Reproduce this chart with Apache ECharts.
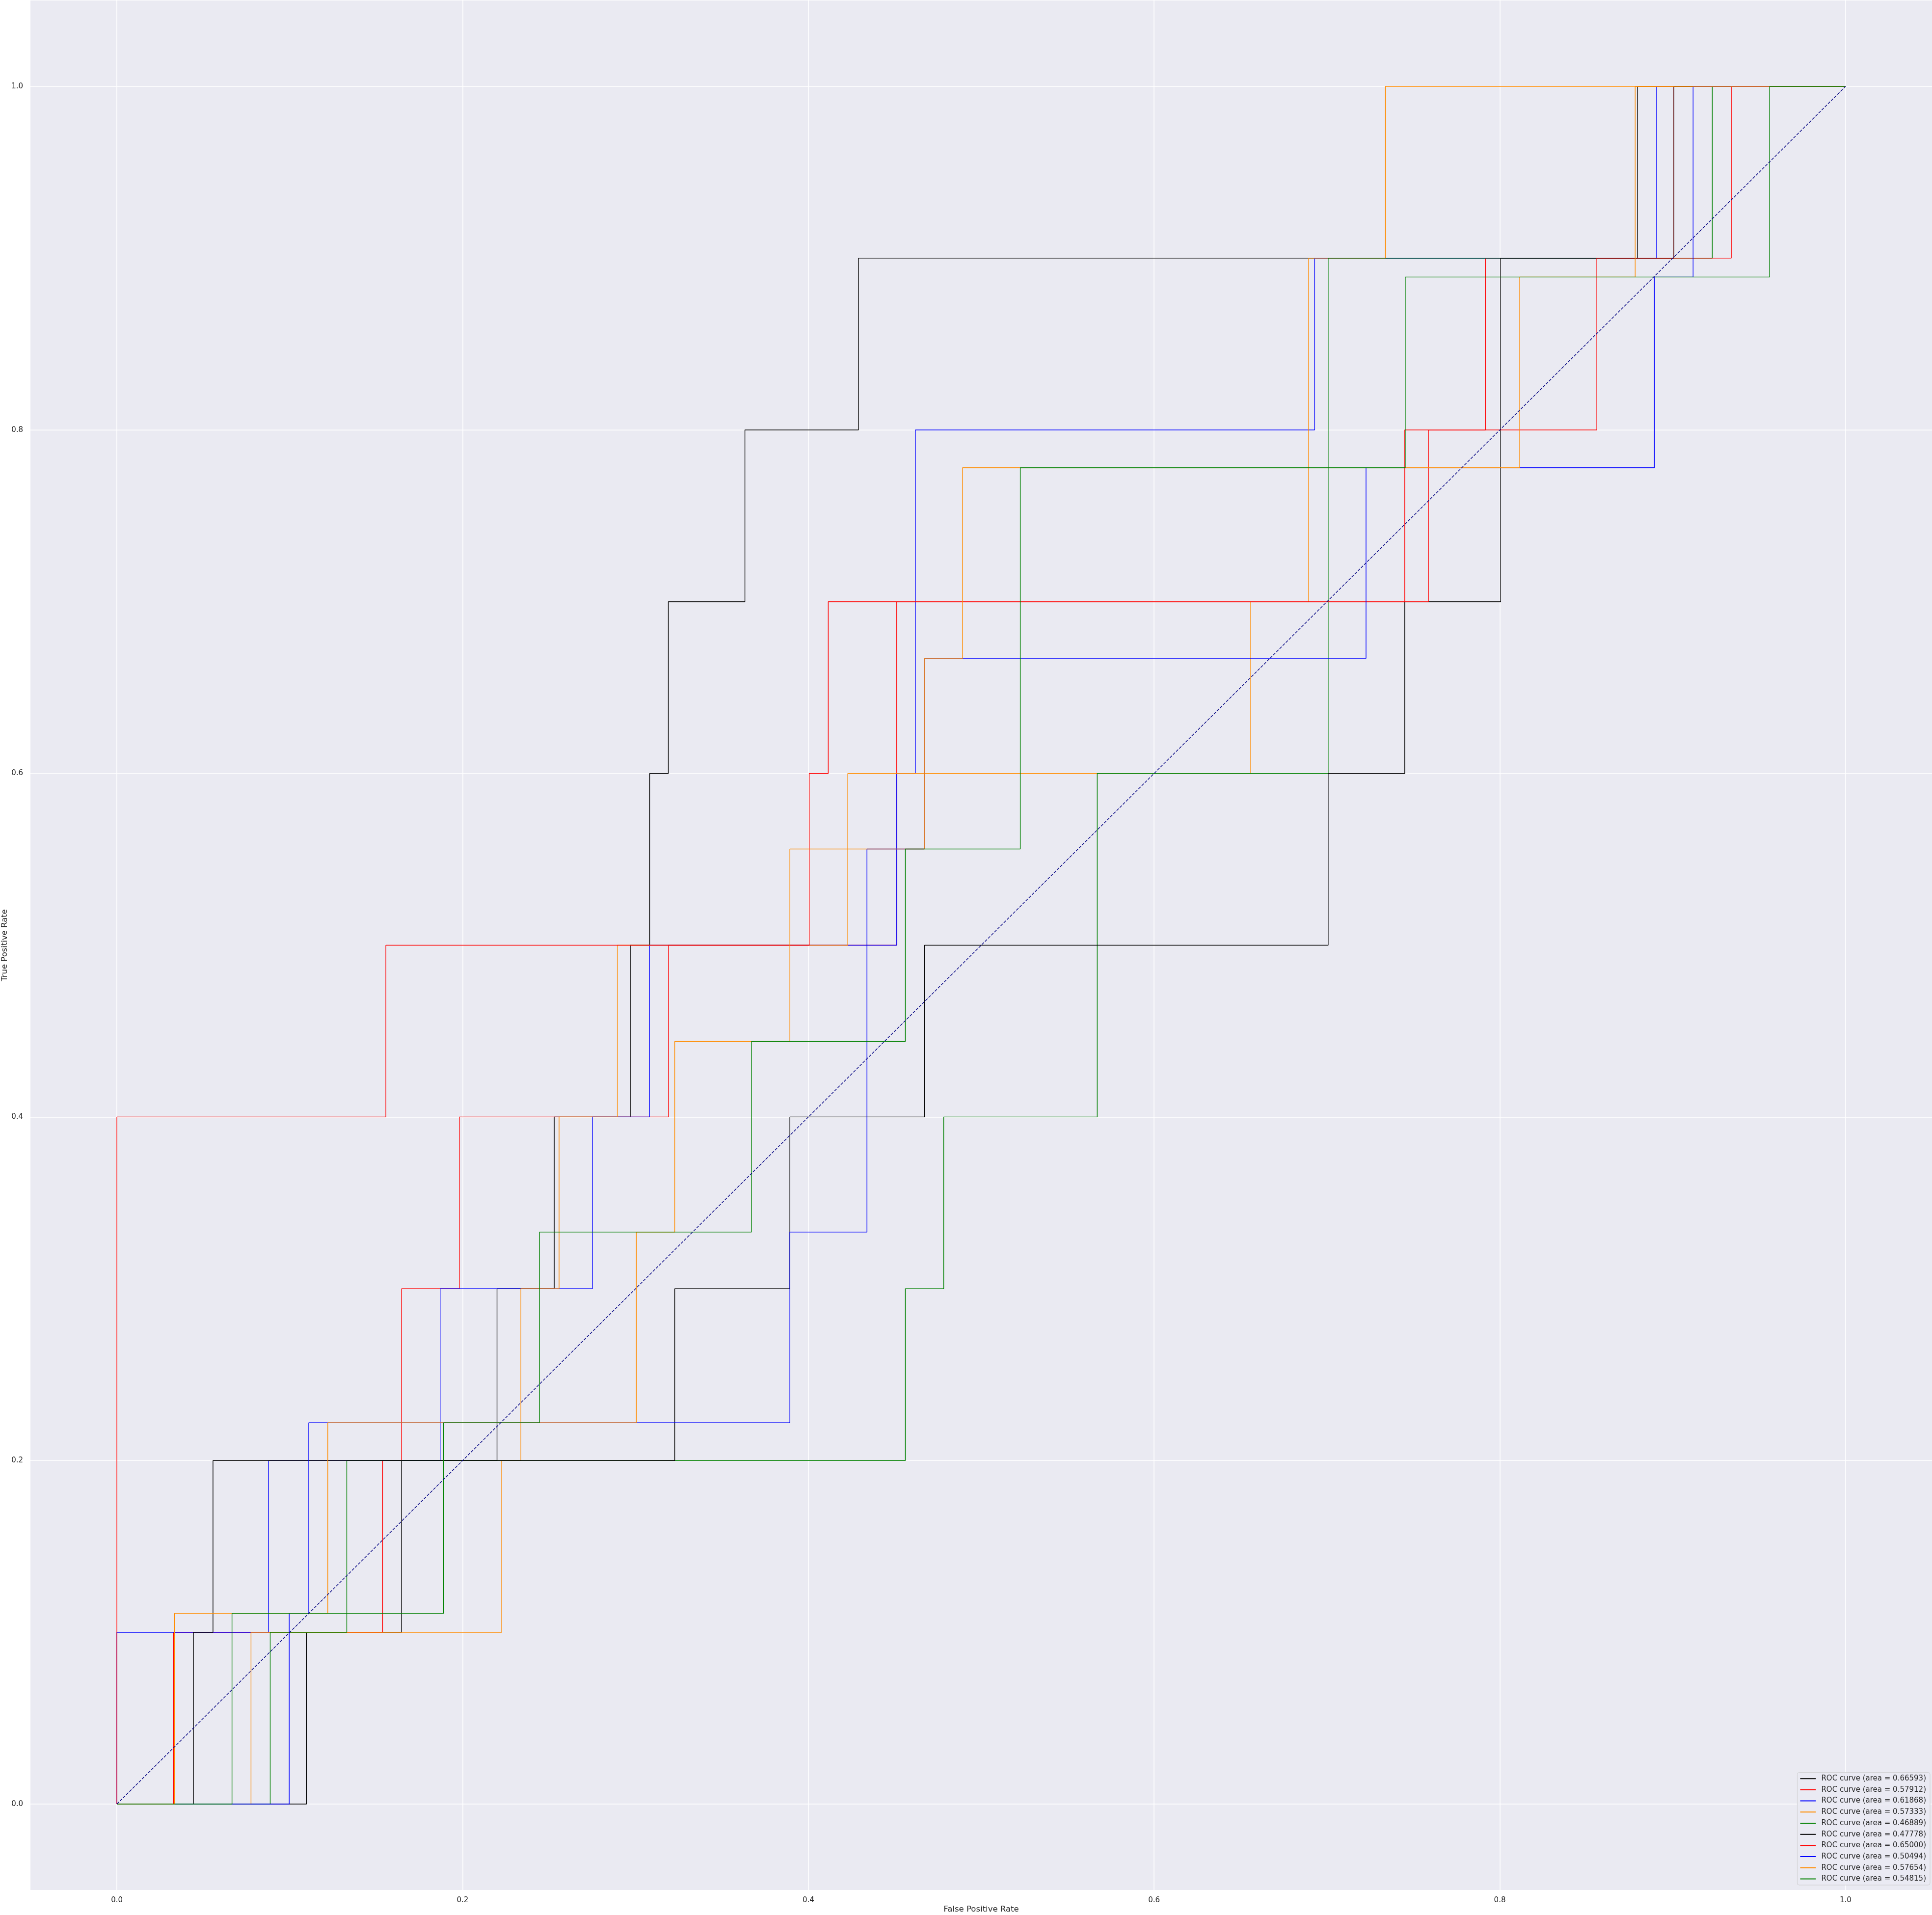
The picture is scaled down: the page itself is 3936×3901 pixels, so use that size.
<!DOCTYPE html>
<html>
<head>
<meta charset="utf-8">
<script src="https://cdn.jsdelivr.net/npm/echarts@6/dist/echarts.min.js"></script>
<style>
  html, body { margin: 0; padding: 0; background: #ffffff; }
  #chart { width: 3936px; height: 3901px; }
</style>
</head>
<body>
<div id="chart"></div>
<script>
// ---- data ----
const curveNames = [
  'ROC curve (area = 0.66593)', 'ROC curve (area = 0.57912)', 'ROC curve (area = 0.61868)',
  'ROC curve (area = 0.57333)', 'ROC curve (area = 0.46889)', 'ROC curve (area = 0.47778)',
  'ROC curve (area = 0.65000)', 'ROC curve (area = 0.50494)', 'ROC curve (area = 0.57654)',
  'ROC curve (area = 0.54815)'
];
const curveColors = ['#000000', '#ff0000', '#0000ff', '#ff8c00', '#008000',
                     '#000000', '#ff0000', '#0000ff', '#ff8c00', '#008000'];

const fpr1 = [0, 0.1097, 0.1097, 0.1647, 0.1647, 0.2199, 0.2199, 0.2530, 0.2530, 0.2970, 0.2970, 0.3082, 0.3082, 0.3190, 0.3190, 0.3633, 0.3633, 0.4290, 0.4290, 0.8796, 0.8796, 1];
const tpr1 = [0, 0, 0.1, 0.1, 0.2, 0.2, 0.3, 0.3, 0.4, 0.4, 0.5, 0.5, 0.6, 0.6, 0.7, 0.7, 0.8, 0.8, 0.9, 0.9, 1, 1];

const fpr2 = [0, 0.0328, 0.0328, 0.1537, 0.1537, 0.1647, 0.1647, 0.1981, 0.1981, 0.3191, 0.3191, 0.4511, 0.4511, 0.7450, 0.7450, 0.7917, 0.7917, 0.9007, 0.9007, 1];
const tpr2 = [0, 0, 0.1, 0.1, 0.2, 0.2, 0.3, 0.3, 0.4, 0.4, 0.5, 0.5, 0.7, 0.7, 0.8, 0.8, 0.9, 0.9, 1, 1];

const fpr3 = [0, 0, 0.0878, 0.0878, 0.1870, 0.1870, 0.2751, 0.2751, 0.3081, 0.3081, 0.4511, 0.4511, 0.4619, 0.4619, 0.6929, 0.6929, 0.8907, 0.8907, 1];
const tpr3 = [0, 0.1, 0.1, 0.2, 0.2, 0.3, 0.3, 0.4, 0.4, 0.5, 0.5, 0.6, 0.6, 0.8, 0.8, 0.9, 0.9, 1, 1];

const fpr4 = [0, 0.0776, 0.0776, 0.2226, 0.2226, 0.2337, 0.2337, 0.2558, 0.2558, 0.2895, 0.2895, 0.4228, 0.4228, 0.6559, 0.6559, 0.6894, 0.6894, 0.7338, 0.7338, 1];
const tpr4 = [0, 0, 0.1, 0.1, 0.2, 0.2, 0.3, 0.3, 0.4, 0.4, 0.5, 0.5, 0.6, 0.6, 0.7, 0.7, 0.9, 0.9, 1, 1];

const fpr5 = [0, 0.0887, 0.0887, 0.1330, 0.1330, 0.4561, 0.4561, 0.4783, 0.4783, 0.5671, 0.5671, 0.7007, 0.7007, 0.9229, 0.9229, 1];
const tpr5 = [0, 0, 0.1, 0.1, 0.2, 0.2, 0.3, 0.3, 0.4, 0.4, 0.6, 0.6, 0.9, 0.9, 1, 1];

const fpr6 = [0, 0.0443, 0.0443, 0.0556, 0.0556, 0.3227, 0.3227, 0.3893, 0.3893, 0.4672, 0.4672, 0.7007, 0.7007, 0.7450, 0.7450, 0.8005, 0.8005, 0.9007, 0.9007, 1];
const tpr6 = [0, 0, 0.1, 0.1, 0.2, 0.2, 0.3, 0.3, 0.4, 0.4, 0.5, 0.5, 0.6, 0.6, 0.7, 0.7, 0.9, 0.9, 1, 1];

const fpr7 = [0, 0, 0.1556, 0.1556, 0.4005, 0.4005, 0.4115, 0.4115, 0.7587, 0.7587, 0.8561, 0.8561, 0.9339, 0.9339, 1];
const tpr7 = [0, 0.4, 0.4, 0.5, 0.5, 0.6, 0.6, 0.7, 0.7, 0.8, 0.8, 0.9, 0.9, 1, 1];

const fpr8 = [0, 0.0997, 0.0997, 0.1110, 0.1110, 0.3893, 0.3893, 0.4339, 0.4339, 0.4671, 0.4671, 0.7226, 0.7226, 0.8894, 0.8894, 0.9118, 0.9118, 1];
const tpr8 = [0, 0, 0.111, 0.111, 0.222, 0.222, 0.333, 0.333, 0.556, 0.556, 0.667, 0.667, 0.778, 0.778, 0.889, 0.889, 1, 1];

const fpr9 = [0, 0.0333, 0.0333, 0.1220, 0.1220, 0.3005, 0.3005, 0.3227, 0.3227, 0.3893, 0.3893, 0.4671, 0.4671, 0.4892, 0.4892, 0.8115, 0.8115, 0.8783, 0.8783, 1];
const tpr9 = [0, 0, 0.111, 0.111, 0.222, 0.222, 0.333, 0.333, 0.444, 0.444, 0.556, 0.556, 0.667, 0.667, 0.778, 0.778, 0.889, 0.889, 1, 1];

const fpr10 = [0, 0.0666, 0.0666, 0.1890, 0.1890, 0.2445, 0.2445, 0.3671, 0.3671, 0.4561, 0.4561, 0.5226, 0.5226, 0.7453, 0.7453, 0.9561, 0.9561, 1];
const tpr10 = [0, 0, 0.111, 0.111, 0.222, 0.222, 0.333, 0.333, 0.444, 0.444, 0.556, 0.556, 0.778, 0.778, 0.889, 0.889, 1, 1];

const chanceX = [0, 1];
const chanceY = [0, 1];

const tickValues = [0, 0.2, 0.4, 0.6, 0.8, 1.0];

// ---- build ----
const fprs = [fpr1, fpr2, fpr3, fpr4, fpr5, fpr6, fpr7, fpr8, fpr9, fpr10];
const tprs = [tpr1, tpr2, tpr3, tpr4, tpr5, tpr6, tpr7, tpr8, tpr9, tpr10];

const FONT = 'DejaVu Sans';
const TXT = '#262626';

const series = fprs.map((f, i) => ({
  type: 'line',
  name: curveNames[i],
  data: f.map((x, j) => [x, tprs[i][j]]),
  color: curveColors[i],
  symbol: 'none',
  showSymbol: false,
  lineStyle: { width: 1.4, color: curveColors[i] },
  z: 2 + i * 0.01,
  silent: true
}));
series.push({
  type: 'line',
  name: 'chance',
  data: chanceX.map((x, j) => [x, chanceY[j]]),
  color: '#000080',
  symbol: 'none',
  showSymbol: false,
  lineStyle: { width: 1.4, color: '#000080', type: [6, 3] },
  z: 3,
  silent: true
});

const chart = echarts.init(document.getElementById('chart'), null, { renderer: 'canvas' });
chart.setOption({
  animation: false,
  backgroundColor: '#ffffff',
  grid: {
    left: 62, right: 0, top: 1, bottom: 51,
    show: true, backgroundColor: '#EAEAF2', borderWidth: 0,
    containLabel: false,
    outerBoundsMode: 'none'
  },
  xAxis: {
    type: 'value',
    min: -0.05, max: 1.05,
    name: 'False Positive Rate',
    nameLocation: 'middle',
    nameGap: 31,
    nameMoveOverlap: false,
    nameTextStyle: { fontFamily: FONT, fontSize: 16.5, color: TXT },
    axisLine: { show: false },
    axisTick: { show: false, customValues: tickValues },
    axisLabel: {
      customValues: tickValues,
      formatter: v => v.toFixed(1),
      fontFamily: FONT, fontSize: 15, color: TXT, margin: 14
    },
    splitLine: { show: true, lineStyle: { color: '#ffffff', width: 1.6 } }
  },
  yAxis: {
    type: 'value',
    min: -0.05, max: 1.05,
    name: 'True Positive Rate',
    nameLocation: 'middle',
    nameGap: 44,
    nameMoveOverlap: false,
    nameTextStyle: { fontFamily: FONT, fontSize: 16.5, color: TXT },
    axisLine: { show: false },
    axisTick: { show: false, customValues: tickValues },
    axisLabel: {
      customValues: tickValues,
      formatter: v => v.toFixed(1),
      fontFamily: FONT, fontSize: 15, color: TXT, margin: 15
    },
    splitLine: { show: true, lineStyle: { color: '#ffffff', width: 1.6 } }
  },
  legend: {
    data: curveNames,
    orient: 'vertical',
    right: 4,
    bottom: 61,
    padding: [3, 8, 3, 6],
    icon: 'rect',
    itemWidth: 32,
    itemHeight: 2,
    itemGap: 3.7,
    backgroundColor: 'rgba(234,234,242,0.8)',
    borderColor: '#cccccc',
    borderWidth: 1,
    borderRadius: 4,
    textStyle: { fontFamily: FONT, fontSize: 15, color: TXT, lineHeight: 19, padding: [0, 0, 0, 6] }
  },
  series: series
});
</script>
</body>
</html>
